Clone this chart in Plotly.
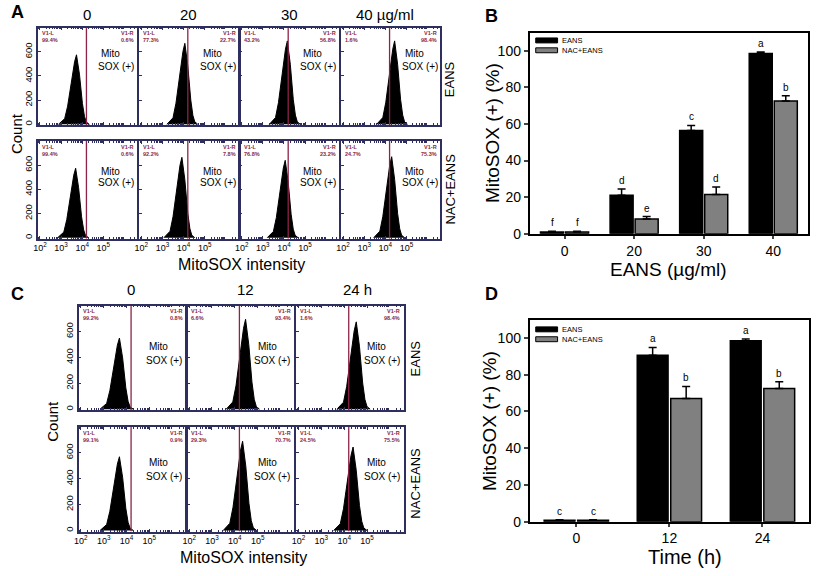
import plotly.graph_objects as go

W, H = 816, 576
FONT = "Liberation Sans, Arial, sans-serif"
FRAME = "#2f2f5f"
GATE = "#8c2448"
PCT = "#8a1f3f"

# ---------------- data: panel A (flow histograms, concentration) ----------------
a_titles = ["0", "20", "30", "40 µg/ml"]
a_rows = ["EANS", "NAC+EANS"]
a_peak_log = [[3.73, 4.06, 4.16, 4.44], [3.69, 3.92, 4.06, 4.30]]
a_peak_cnt = [[575, 670, 690, 690], [575, 665, 640, 670]]
a_left_pct = [["99.4%", "77.3%", "43.2%", "1.6%"], ["99.4%", "92.2%", "76.8%", "24.7%"]]
a_right_pct = [["0.6%", "22.7%", "56.8%", "98.4%"], ["0.6%", "7.8%", "23.2%", "75.3%"]]

# ---------------- data: panel C (flow histograms, time) ----------------
c_titles = ["0", "12", "24 h"]
c_rows = ["EANS", "NAC+EANS"]
c_peak_log = [[3.69, 4.47, 4.53], [3.69, 4.34, 4.39]]
c_peak_cnt = [[550, 695, 675], [570, 690, 645]]
c_left_pct = [["99.2%", "6.6%", "1.6%"], ["99.1%", "29.3%", "24.5%"]]
c_right_pct = [["0.8%", "93.4%", "98.4%"], ["0.9%", "70.7%", "75.5%"]]

# common histogram peak outline (decades from peak, fraction of peak count)
shape_offset = [-0.85, -0.56, -0.42, -0.24, -0.09, 0.0, 0.14, 0.28, 0.38, 0.47, 0.61]
shape_frac = [0.0, 0.08, 0.26, 0.63, 0.9, 1.0, 0.72, 0.3, 0.11, 0.03, 0.0]
gate_log = 4.2
count_ticks = [0, 200, 400, 600]
decades = [2, 3, 4, 5]
decade_labels = ["10<sup>2</sup>", "10<sup>3</sup>", "10<sup>4</sup>", "10<sup>5</sup>"]
hist_xrange = [1.9, 6.6]
hist_yrange = [-8, 800]

# ---------------- data: panel B ----------------
b_cats = ["0", "20", "30", "40"]
b_eans = [1.0, 21.0, 56.5, 98.5]
b_eans_err = [0.3, 3.5, 2.7, 0.9]
b_nac = [1.0, 8.0, 21.5, 72.5]
b_nac_err = [0.3, 1.4, 4.0, 3.0]
b_eans_let = ["f", "d", "c", "a"]
b_nac_let = ["f", "e", "d", "b"]

# ---------------- data: panel D ----------------
d_cats = ["0", "12", "24"]
d_eans = [0.8, 90.5, 98.5]
d_eans_err = [0.2, 4.3, 0.9]
d_nac = [0.8, 67.0, 72.5]
d_nac_err = [0.2, 6.6, 3.6]
d_eans_let = ["c", "a", "a"]
d_nac_let = ["c", "b", "b"]

series_names = ["EANS", "NAC+EANS"]
series_colors = ["black", "#808080"]

# ---------------- figure ----------------
fig = go.Figure()
layout = dict(width=W, height=H, margin=dict(l=0, r=0, t=0, b=0), autosize=False,
              paper_bgcolor="white", plot_bgcolor="white",
              font=dict(family=FONT, color="black"),
              barmode="group", bargap=0.28, bargroupgap=0.08, showlegend=False)
ann = []
shp = []
counter = [0]


def px_x(x):
    return x / W


def px_y(y):
    return 1 - y / H


def new_axes():
    counter[0] += 1
    n = counter[0]
    return "" if n == 1 else str(n)


minor_vals = [k * 10 ** d for d in range(1, 7) for k in range(2, 10)]


def hist(x0, y0, w, h, plog, pcnt, lp, rp, show_y, show_x, mito_pos):
    s = new_axes()
    xr, yr = "x" + s, "y" + s
    xs = [10 ** (plog + o) for o in shape_offset]
    ys = [pcnt * f for f in shape_frac]
    fig.add_trace(go.Scatter(x=xs, y=ys, xaxis=xr, yaxis=yr, mode="lines",
                             line=dict(color="black", width=1), fill="tozeroy",
                             fillcolor="black", hoverinfo="skip"))
    fig.add_trace(go.Scatter(x=[10 ** gate_log] * 2, y=hist_yrange, xaxis=xr, yaxis=yr,
                             mode="lines", line=dict(color=GATE, width=1.3), hoverinfo="skip"))
    layout["xaxis" + s] = dict(
        domain=[px_x(x0), px_x(x0 + w)], anchor=yr, type="log", range=hist_xrange,
        showline=True, linecolor=FRAME, linewidth=1.5, mirror="ticks", showgrid=False,
        zeroline=False, ticks="inside", ticklen=3, tickcolor=FRAME,
        tickmode="array", tickvals=[10 ** d for d in decades], ticktext=decade_labels,
        showticklabels=show_x, tickfont=dict(size=9),
        minor=dict(tickmode="array", tickvals=minor_vals, ticks="inside", ticklen=2,
                   tickcolor=FRAME, showgrid=False))
    layout["yaxis" + s] = dict(
        domain=[px_y(y0 + h), px_y(y0)], anchor=xr, range=hist_yrange,
        showline=True, linecolor=FRAME, linewidth=1.5, mirror=True, showgrid=False,
        zeroline=False, ticks="inside", ticklen=3, tickcolor=FRAME,
        tickmode="array", tickvals=count_ticks, showticklabels=show_y,
        tickangle=-90, tickfont=dict(size=9.5))
    ann.append(dict(xref=xr + " domain", yref=yr + " domain", x=0.02, y=0.995,
                    xanchor="left", yanchor="top", align="left", showarrow=False,
                    text="<b>V1-L<br>" + lp + "</b>", font=dict(size=5.5, color=PCT)))
    ann.append(dict(xref=xr + " domain", yref=yr + " domain", x=0.99, y=0.995,
                    xanchor="right", yanchor="top", align="right", showarrow=False,
                    text="<b>V1-R<br>" + rp + "</b>", font=dict(size=5.5, color=PCT)))
    mfx, sfx, mfy, sfy = mito_pos
    ann.append(dict(xref=xr + " domain", yref=yr + " domain", x=mfx, y=1 - mfy,
                    xanchor="left", yanchor="middle", showarrow=False,
                    text="Mito", font=dict(size=10)))
    ann.append(dict(xref=xr + " domain", yref=yr + " domain", x=sfx, y=1 - sfy,
                    xanchor="left", yanchor="middle", showarrow=False,
                    text="SOX (+)", font=dict(size=10)))


# panel A
a_left = [33, 135, 236, 338]
a_w = 100
a_top = [28, 143]
a_h = 99
a_mito = [(0.62, 0.59, 0.27, 0.40), (0.62, 0.59, 0.31, 0.43)]
for r in range(2):
    for c in range(4):
        hist(a_left[c], a_top[r], a_w, a_h, a_peak_log[r][c], a_peak_cnt[r][c],
             a_left_pct[r][c], a_right_pct[r][c], c == 0, r == 1, a_mito[r])

# panel C
c_left = [74, 183, 293]
c_w = 108
c_top = [310, 433]
c_h = 106
c_mito = [(0.64, 0.61, 0.39, 0.52), (0.64, 0.61, 0.34, 0.47)]
for r in range(2):
    for c in range(3):
        hist(c_left[c], c_top[r], c_w, c_h, c_peak_log[r][c], c_peak_cnt[r][c],
             c_left_pct[r][c], c_right_pct[r][c], c == 0, r == 1, c_mito[r])


def text(x, y, t, size, angle=0, bold=False, anchor="center"):
    ann.append(dict(xref="paper", yref="paper", x=px_x(x), y=px_y(y), text=("<b>%s</b>" % t) if bold else t,
                    showarrow=False, textangle=angle, xanchor=anchor, yanchor="middle",
                    font=dict(size=size)))


# panel A / C labels
for c, t in enumerate(a_titles):
    text(a_left[c] + a_w / 2 if c < 3 else 382, 15, t, 15)
text(448, 80, a_rows[0], 13, -90)
text(448, 192, a_rows[1], 13, -90)
text(11, 135, "Count", 15, -90)
text(238, 268, "MitoSOX intensity", 16)

c_title_x = [127, 242, 355]
for c, t in enumerate(c_titles):
    text(c_title_x[c], 294, t, 15)
text(413, 363, c_rows[0], 13, -90)
text(413, 490, c_rows[1], 13, -90)
text(47, 427, "Count", 15, -90)
text(240, 565, "MitoSOX intensity", 16)

text(13, 12, "A", 18, bold=True)
text(489, 16, "B", 18, bold=True)
text(13, 298, "C", 18, bold=True)
text(490, 298, "D", 18, bold=True)


def bars(x0, y0, x1, y1, cats, ev, ee, nv, ne, el, nl, leg_y):
    s = new_axes()
    xr, yr = "x" + s, "y" + s
    for vals, errs, col, name in [(ev, ee, series_colors[0], series_names[0]),
                                  (nv, ne, series_colors[1], series_names[1])]:
        fig.add_trace(go.Bar(x=cats, y=vals, name=name, xaxis=xr, yaxis=yr,
                             marker=dict(color=col, line=dict(color="black", width=1.5)),
                             error_y=dict(type="data", symmetric=False, array=errs,
                                          arrayminus=[0] * len(errs), color="black",
                                          thickness=1.5, width=4)))
    layout["xaxis" + s] = dict(domain=[px_x(x0), px_x(x1)], anchor=yr, type="category",
                               range=[-0.5, len(cats) - 0.5], showline=True, linecolor="black",
                               linewidth=2, mirror=True, ticks="outside", ticklen=3, tickwidth=1.5,
                               tickfont=dict(size=14), showgrid=False, zeroline=False)
    layout["yaxis" + s] = dict(domain=[px_y(y1), px_y(y0)], anchor=xr, range=[0, 110],
                               tickmode="array", tickvals=[0, 20, 40, 60, 80, 100],
                               showline=True, linecolor="black", linewidth=2, mirror=True,
                               ticks="outside", ticklen=4, tickwidth=1.5,
                               tickfont=dict(size=14), showgrid=False, zeroline=False)
    for i in range(len(cats)):
        for off, v, e, l in [(-0.18, ev[i], ee[i], el[i]), (0.18, nv[i], ne[i], nl[i])]:
            ann.append(dict(xref=xr, yref=yr, x=i + off, y=v + e, yanchor="bottom",
                            text=l, showarrow=False, font=dict(size=10), yshift=1))
    # legend
    for k in range(2):
        yc = leg_y[k]
        shp.append(dict(type="rect", xref="paper", yref="paper", x0=px_x(534), x1=px_x(556),
                        y0=px_y(yc + 2.5), y1=px_y(yc - 2.5), fillcolor=series_colors[k],
                        line=dict(color="black", width=1)))
        ann.append(dict(xref="paper", yref="paper", x=px_x(559), y=px_y(yc), xanchor="left",
                        yanchor="middle", text=series_names[k], showarrow=False, borderpad=0,
                        font=dict(size=7.5)))


bars(528, 33, 808, 237, b_cats, b_eans, b_eans_err, b_nac, b_nac_err, b_eans_let, b_nac_let, [41, 51])
text(490, 135, "MitoSOX (+) (%)", 19, -90)
text(668, 273, "EANS (µg/ml)", 19)

bars(528, 324, 809, 529, d_cats, d_eans, d_eans_err, d_nac, d_nac_err, d_eans_let, d_nac_let, [334, 344])
text(487, 427, "MitoSOX (+) (%)", 19, -90)
text(684, 565, "Time (h)", 20)

layout["annotations"] = ann
layout["shapes"] = shp
fig.update_layout(**layout)
fig.write_html("out.html", config={"displayModeBar": False},
               post_script="document.body.style.margin='0';document.body.style.overflow='hidden';")
